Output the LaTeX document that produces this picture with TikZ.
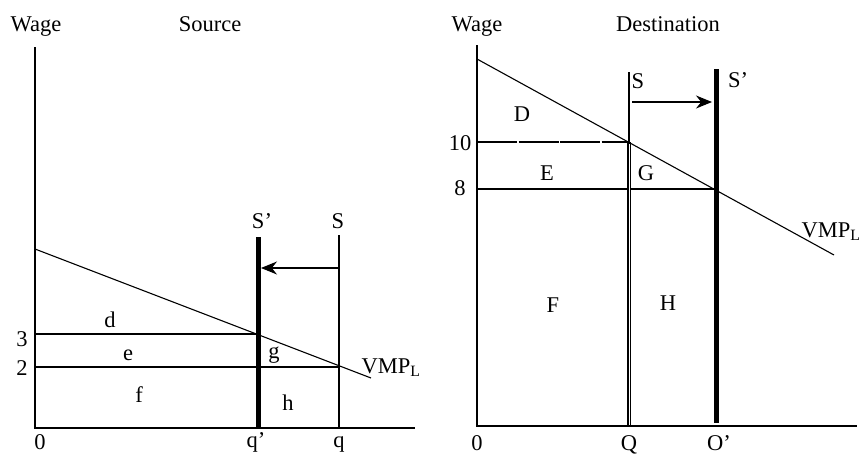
\documentclass[tikz,border=0pt]{standalone}
\usepackage{fontspec}
\setmainfont{Liberation Serif}
\usetikzlibrary{arrows.meta}
\begin{document}
\begin{tikzpicture}[x=1pt,y=-1pt,
  lbl/.style={font=\fontsize{22.5}{26}\selectfont, inner sep=0pt, anchor=base},
  thinln/.style={line width=1.1pt},
  medln/.style={line width=1.8pt},
  axisln/.style={line width=2.6pt},
  supln/.style={line width=5pt},
  shiftarr/.style={line width=1.1pt, -{Stealth[length=16pt,width=13pt]}},
  dashln/.style={line width=2.4pt, dash pattern=on 40pt off 1.5pt}]
\useasboundingbox (0,0) rectangle (863,456);
% ---------------- Left panel: Source ----------------
\coordinate (LYt) at (35,47);
\coordinate (LO) at (35,428);
\coordinate (LXe) at (415,428);
\coordinate (Lv1) at (35,249);
\coordinate (Lv2) at (371,378);
\coordinate (LSpt) at (258,237);
\coordinate (LSpb) at (258,428);
\coordinate (LSt) at (339,235);
\coordinate (LSb) at (339,428);
\coordinate (L3a) at (35,334);
\coordinate (L3b) at (258,334);
\coordinate (L2a) at (35,367);
\coordinate (L2b) at (339,367);
\coordinate (LAs) at (339,268);
\coordinate (LAe) at (261,268);
\draw[thinln] (Lv1) -- (Lv2);
\draw[medln] (L3a) -- (L3b);
\draw[thinln] (L2a) -- (L2b);
\draw[thinln] (LSt) -- (LSb);
\draw[shiftarr] (LAs) -- (LAe);
\draw[axisln] (LYt) -- (LO) -- (LXe);
\draw[supln] (LSpt) -- (LSpb);
\node[lbl] (lwage) at (36,31) {Wage};
\node[lbl] (lsrc) at (210,31) {Source};
\node[lbl] (l3) at (22,346) {3};
\node[lbl] (l2) at (22,375) {2};
\node[lbl] (ld) at (110,327) {d};
\node[lbl] (le) at (128,360) {e};
\node[lbl] (lf) at (139,402) {f};
\node[lbl] (lg) at (274,358) {g};
\node[lbl] (lh) at (288,410) {h};
\node[lbl] (lSp) at (262,228) {S’};
\node[lbl] (lS) at (338,228) {S};
\node[lbl] (lvmp) at (391,373) {VMP\textsubscript{L}};
\node[lbl] (l0) at (40,449) {0};
\node[lbl] (lqp) at (256,447) {q’};
\node[lbl] (lq) at (339,447) {q};
% ---------------- Right panel: Destination ----------------
\coordinate (RYt) at (477,45);
\coordinate (RO) at (477,426);
\coordinate (RQ) at (629,426);
\coordinate (RXe) at (857,426);
\coordinate (Rv1) at (477,59);
\coordinate (Rv2) at (834,255);
\coordinate (RSt) at (629,72);
\coordinate (R10b) at (629,142);
\coordinate (R10a) at (477,142);
\coordinate (R8a) at (477,189);
\coordinate (R8b) at (716,189);
\coordinate (RSpt) at (716,69);
\coordinate (RSpb) at (716,423);
\coordinate (RAs) at (632,102);
\coordinate (RAe) at (712,102);
\draw[thinln] (Rv1) -- (Rv2);
\draw[thinln] (R8a) -- (R8b);
\draw[thinln] (RSt) -- (RQ);
\draw[line width=3.2pt] (R10b) -- (RQ);
\draw[line width=0.6pt, white] ([yshift=-2pt]R10b) -- ([yshift=1pt]RQ);
\draw[dashln] (R10a) -- (R10b);
\draw[line width=1.8pt] (RQ) -- (RXe);
\draw[axisln] (RYt) -- (RO) -- (RQ);
\draw[shiftarr] (RAs) -- (RAe);
\draw[supln] (RSpt) -- (RSpb);
\node[lbl] (rwage) at (477,31) {Wage};
\node[lbl] (rdst) at (668,31) {Destination};
\node[lbl] (r10) at (460,150) {10};
\node[lbl] (r8) at (460,195) {8};
\node[lbl] (rD) at (522,121) {D};
\node[lbl] (rE) at (547,180) {E};
\node[lbl] (rG) at (646,180) {G};
\node[lbl] (rF) at (553,312) {F};
\node[lbl] (rH) at (668,310) {H};
\node[lbl] (rS) at (638,88) {S};
\node[lbl] (rSp) at (738,87) {S’};
\node[lbl] (rvmp) at (831,237) {VMP\textsubscript{L}};
\node[lbl] (r0) at (477,450) {0};
\node[lbl] (rQl) at (629,450) {Q};
\node[lbl] (rOp) at (719,450) {O’};
\end{tikzpicture}
\end{document}
